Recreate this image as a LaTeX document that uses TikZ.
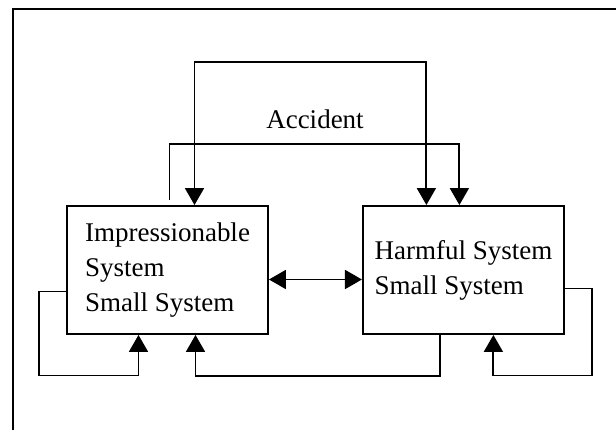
\documentclass[tikz,border=0pt]{standalone}
\usepackage{fontspec}
\setmainfont{Liberation Serif}
\usetikzlibrary{positioning}
\usetikzlibrary{arrows.meta}
\tikzset{%
	% Specifications for style of nodes:
	base/.style = {rectangle, draw=black, line width=1.9pt,
		minimum width=201pt, minimum height=128pt,
		inner sep=0pt, font=\fontsize{27}{35}\selectfont},
	system/.style = {base, align=left},
	flow/.style = {line width=1.9pt, -{Triangle[width=19pt,length=17pt]}},
	twoway/.style = {line width=1.9pt, {Triangle[width=19pt,length=17pt]}-{Triangle[width=19pt,length=17pt]}},
}
\begin{document}
\begin{tikzpicture}[x=1pt, y=-1pt, node distance=93pt]
	\clip (0,0) rectangle (616,430);
	\draw[line width=1.6pt] (13,9) rectangle (640,450);
	
	\node (imp) [system] at (167.5,270) {Impressionable\\System\\Small System};
	\node (harm) [system, right=93pt of imp] {Harmful System\\Small System};
	\node (accident) [font=\fontsize{27}{35}\selectfont] at (315,119) {Accident};
	
	\coordinate (top) at (0,62);
	\coordinate (mid) at (0,144);
	
	\draw [twoway] ([xshift=27pt]imp.north) -- ([xshift=27pt]imp.north |- top) -| ([xshift=-37pt]harm.north);
	\draw [flow] ([shift={(2pt,5pt)}]imp.north) -- ([xshift=2pt]imp.north |- mid) -| ([xshift=-4pt]harm.north);
	\draw [twoway] ([yshift=-9.5pt]imp.east) -- ([yshift=-9.5pt]harm.west);
	\draw [flow] ([yshift=-21.5pt]imp.west) -- ++(-27,0) -- ++(0,84) -| ([xshift=-29pt]imp.south);
	\draw [flow] ([xshift=-23pt]harm.south) -- ++(0,41) -| ([xshift=28pt]imp.south);
	\draw [flow] ([yshift=-18.5pt]harm.east) -- ++(27,0) -- ++(0,87) -| ([xshift=30pt]harm.south);
\end{tikzpicture}
\end{document}
